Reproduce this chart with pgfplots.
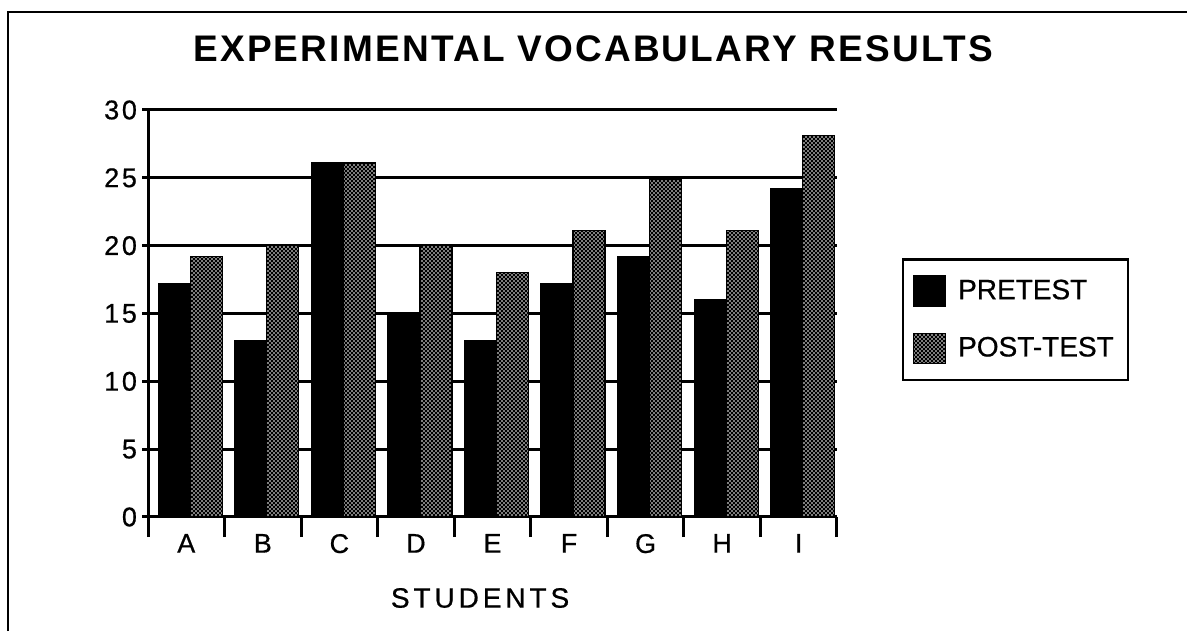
\documentclass[border=0pt]{standalone}
\usepackage{fontspec}
\setmainfont{Liberation Sans}
\newfontfamily\regfont[FakeBold=0.6]{Liberation Sans}
\newfontfamily\ticksfont[LetterSpace=10,FakeBold=0.6]{Liberation Sans}
\newfontfamily\labfont[LetterSpace=14,FakeBold=0.6]{Liberation Sans}
\newfontfamily\titlefont[LetterSpace=6]{Liberation Sans}
\usepackage{pgfplots}
\pgfplotsset{compat=1.18}
\usetikzlibrary{patterns}
\pgfdeclarepatternformonly{finedots}{\pgfqpoint{-0.5pt}{-0.5pt}}{\pgfqpoint{1.5pt}{1.5pt}}{\pgfqpoint{2pt}{2pt}}{%
  \pgfpathcircle{\pgfqpoint{0pt}{0pt}}{0.4pt}%
  \pgfpathcircle{\pgfqpoint{1pt}{1pt}}{0.4pt}%
  \pgfusepath{fill}}
\begin{document}
\begin{tikzpicture}[x=1pt,y=1pt]
\useasboundingbox (0,0) rectangle (593.5,315.5);
\draw[line width=1pt] (4,0) -- (4,309.5) -- (593.5,309.5);
\node[font=\titlefont\bfseries\fontsize{18.5}{21}\selectfont] at (296.5,291) {EXPERIMENTAL VOCABULARY RESULTS};
\begin{axis}[
  at={(74pt,57pt)}, anchor=south west, scale only axis,
  width=344.5pt, height=203.5pt,
  xmin=-0.5, xmax=8.5, ymin=0, ymax=30,
  axis x line*=bottom, axis y line*=left,
  axis line style={-, line width=1.5pt},
  ytick={0,5,...,30},
  ymajorgrids, grid style={black, line width=1.5pt},
  xtick={0,...,8}, xticklabels={A,B,C,D,E,F,G,H,I},
  minor xtick={-0.5,0.5,...,8.5},
  tick align=center,
  major tick length=6pt, minor tick length=10pt,
  tick style={black, line width=1.5pt},
  major x tick style={draw=none},
  /pgf/number format/assume math mode=true,
  yticklabel style={font=\ticksfont\fontsize{13.5}{15}\selectfont, xshift=1pt},
  xticklabel style={font=\regfont\fontsize{13.5}{15}\selectfont, yshift=1pt},
  xlabel={STUDENTS},
  xlabel style={font=\labfont\fontsize{14}{16}\selectfont, at={(axis description cs:0.482,-0.199)}, anchor=center},
  ybar, bar width=16pt,
  legend style={at={(1.094,0.636)}, anchor=north west, draw=black, line width=1.2pt,
    font=\regfont\fontsize{14}{16}\selectfont, inner xsep=5pt, inner ysep=8pt, row sep=13pt,
    /tikz/every odd column/.append style={column sep=4pt}},
  legend cell align=left,
  legend image code/.code={\draw[#1, line width=0.6pt] (0pt,-7.5pt) rectangle (16pt,7.5pt);},
]
\addplot[bar shift=-6pt, fill=black, draw=black, line width=0.6pt] coordinates {
  (0,17.2) (1,13) (2,26.1) (3,15) (4,13) (5,17.2) (6,19.2) (7,16) (8,24.2)};
\addplot[bar shift=10pt, fill=black, draw=black, line width=0.6pt,
  postaction={pattern=finedots, pattern color=white}] coordinates {
  (0,19.2) (1,20) (2,26.1) (3,20) (4,18) (5,21.1) (6,24.9) (7,21.1) (8,28.1)};
\legend{PRETEST,POST-TEST}
\end{axis}
\end{tikzpicture}
\end{document}
